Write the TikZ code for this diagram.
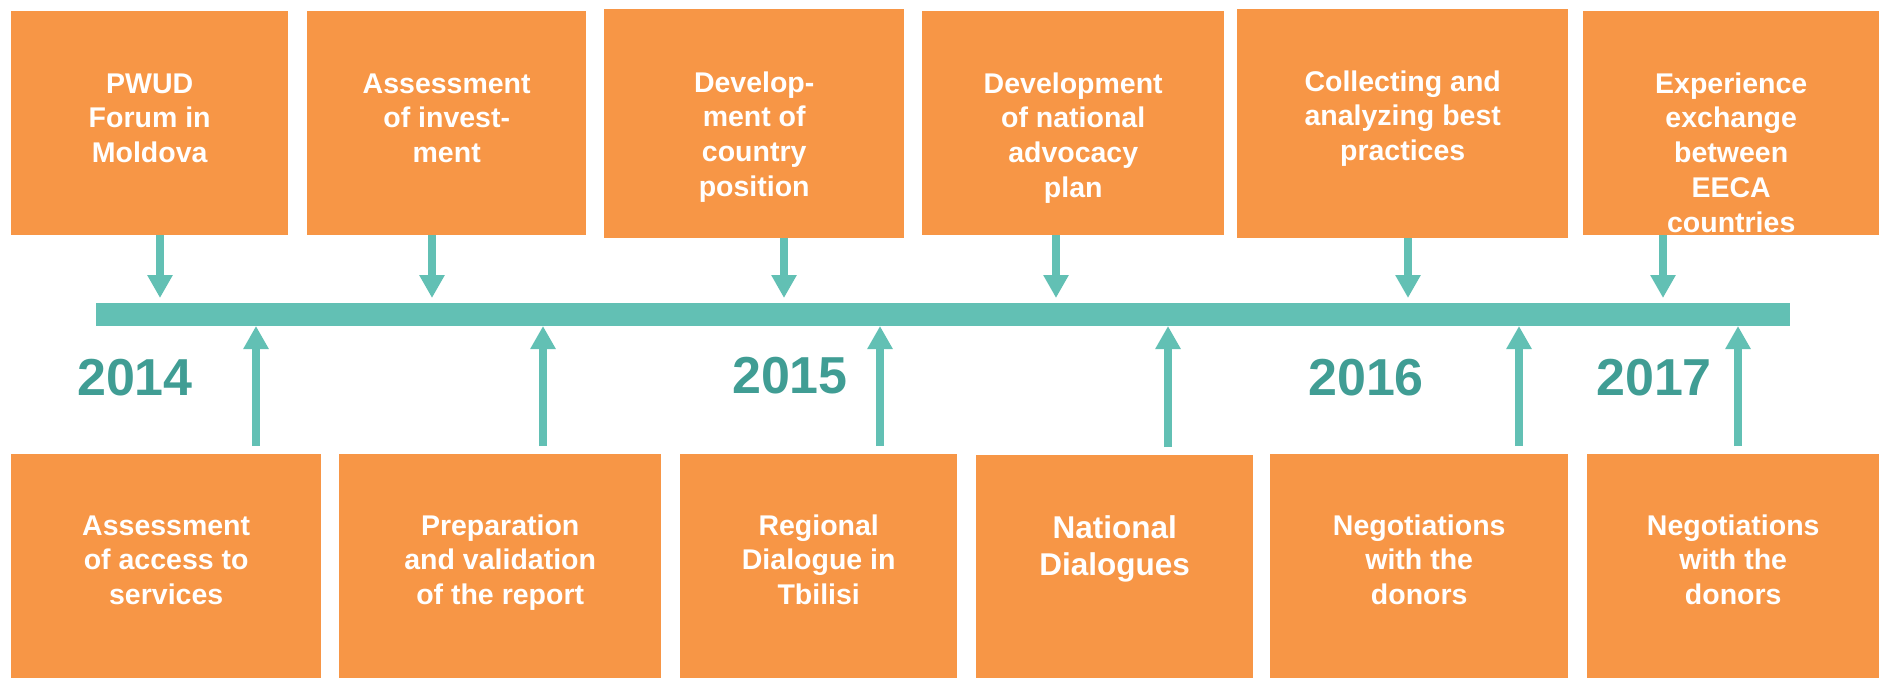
\documentclass[tikz,border=0pt]{standalone}
\usepackage{fontspec}
\setmainfont{Liberation Sans}
\usetikzlibrary{arrows.meta}
\definecolor{boxorange}{HTML}{F79646}
\definecolor{barteal}{HTML}{62C0B4}
\definecolor{yearteal}{HTML}{409D94}
\newcommand{\boxbody}[4]{\parbox[c][#2][t]{#1}{\centering\rule{0pt}{#3}#4}}
\begin{document}
\begin{tikzpicture}[x=1pt,y=-1pt,
  ebox/.style={fill=boxorange, inner sep=0pt, anchor=north west, text=white,
    font=\bfseries\fontsize{28.5}{34.7}\selectfont},
  bigtext/.style={font=\bfseries\fontsize{31.5}{37}\selectfont},
  tlbar/.style={fill=barteal, inner sep=0pt, anchor=north west},
  arr/.style={draw=barteal, line width=8pt, -{Triangle[length=23pt,width=24pt]}},
  year/.style={text=yearteal, font=\bfseries\fontsize{52}{60}\selectfont, anchor=base, inner sep=0pt}]
\useasboundingbox (0,0) rectangle (1879,678);

% timeline bar
\node[tlbar, minimum width=1694pt, minimum height=23pt] (bar) at (96,303) {};

% top boxes
\node[ebox] (t1) at (11,11)   {\boxbody{277pt}{224pt}{82pt}{PWUD\\Forum in\\Moldova}};
\node[ebox] (t2) at (307,11)  {\boxbody{279pt}{224pt}{82pt}{Assessment\\of invest-\\ment}};
\node[ebox] (t3) at (604,9)   {\boxbody{300pt}{229pt}{83pt}{Develop-\\ment of\\country\\position}};
\node[ebox] (t4) at (922,11)  {\boxbody{302pt}{224pt}{82pt}{Development\\of national\\advocacy\\plan}};
\node[ebox] (t5) at (1237,9)  {\boxbody{331pt}{229pt}{82pt}{Collecting and\\analyzing best\\practices}};
\node[ebox] (t6) at (1583,11) {\boxbody{296pt}{224pt}{82pt}{Experience\\exchange\\between\\EECA\\countries}};

% bottom boxes
\node[ebox] (b1) at (11,454)   {\boxbody{310pt}{224pt}{81pt}{Assessment\\of access to\\services}};
\node[ebox] (b2) at (339,454)  {\boxbody{322pt}{224pt}{81pt}{Preparation\\and validation\\of the report}};
\node[ebox] (b3) at (680,454)  {\boxbody{277pt}{224pt}{81pt}{Regional\\Dialogue in\\Tbilisi}};
\node[ebox,bigtext] (b4) at (976,455) {\boxbody{277pt}{223pt}{83pt}{National\\Dialogues}};
\node[ebox] (b5) at (1270,454) {\boxbody{298pt}{224pt}{81pt}{Negotiations\\with the\\donors}};
\node[ebox] (b6) at (1587,454) {\boxbody{292pt}{224pt}{81pt}{Negotiations\\with the\\donors}};

% arrow tips on the bar
\coordinate (d1) at (160,298);
\coordinate (d2) at (432,298);
\coordinate (d3) at (784,298);
\coordinate (d4) at (1056,298);
\coordinate (d5) at (1408,298);
\coordinate (d6) at (1663,298);
\coordinate (u1) at (256,326);
\coordinate (u2) at (543,326);
\coordinate (u3) at (880,326);
\coordinate (u4) at (1168,326);
\coordinate (u5) at (1519,326);
\coordinate (u6) at (1738,326);

\foreach \i in {1,...,6}{
  \draw[arr] (t\i.south -| d\i) -- (d\i);
  \draw[arr] ([yshift=8pt]b\i.north -| u\i) -- (u\i);
}

% years
\node[year] (y14) at (135,395)  {2014};
\node[year] (y15) at (790,393)  {2015};
\node[year] (y16) at (1366,395) {2016};
\node[year] (y17) at (1654,395) {2017};
\end{tikzpicture}
\end{document}
